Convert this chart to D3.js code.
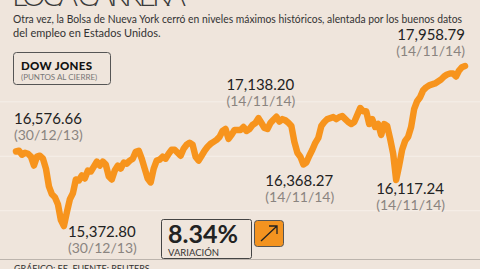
<!DOCTYPE html>
<html>
  <head>
    <meta charset="UTF-8" />
    <script src="https://d3js.org/d3.v7.min.js"></script>
    <style>
      body { margin: 0; background: #efe5dc; }
      text { font-family: Lato, "Open Sans", sans-serif; }
    </style>
  </head>
  <body>
    <svg width="480" height="269"></svg>

    <script>
      // Dow Jones closes, 30/12/13 .. 05/12/14
      const values = [
        16576.66, 16589, 16525, 16557, 16540, 16493, 16350, 16493, 16509, 16461,
        16301, 16013, 15885, 15837, 15725, 15469, 15372.80, 15597, 15805, 15901,
        16125, 16109, 16189, 16141, 16269, 16253, 16333, 16413, 16349, 16413,
        16365, 16173, 16125, 16269, 16349, 16301, 16397, 16381, 16429, 16461,
        16573, 16589, 16461, 16301, 16141, 16077, 16301, 16429, 16445, 16493,
        16461, 16541, 16605, 16605, 16557, 16509, 16621, 16685, 16717, 16685,
        16493, 16429, 16509, 16589, 16653, 16701, 16733, 16765, 16813, 16909,
        16941, 16781, 16845, 16925, 16925, 16925, 16973, 16909, 16941, 17005,
        17037, 17117, 17037, 16957, 16941, 17037, 17090, 17138.20, 17060, 17100,
        17080, 17040, 16989, 16733, 16557, 16493, 16368.27, 16400, 16509, 16605,
        16717, 16797, 16989, 17053, 17101, 17117, 17133, 17101, 17133, 17149,
        17101, 17053, 17021, 17053, 17165, 17280, 17229, 17229, 17021, 17101,
        16973, 17021, 16845, 17021, 16989, 16781, 16541, 16117.24, 16349, 16605,
        16749, 16813, 16973, 17261, 17389, 17453, 17565, 17613, 17645, 17661,
        17677, 17709, 17741, 17789, 17821, 17837, 17837, 17789, 17885, 17940,
        17958.79
      ];

      // highlighted points: index into values, label text, date text
      const callouts = [
        { i: 0, value: "16,576.66", date: "(30/12/13)" },
        { i: 16, value: "15,372.80", date: "(30/12/13)" },
        { i: 87, value: "17,138.20", date: "(14/11/14)" },
        { i: 96, value: "16,368.27", date: "(14/11/14)" },
        { i: 127, value: "16,117.24", date: "(14/11/14)" },
        { i: 150, value: "17,958.79", date: "(14/11/14)" }
      ];

      const gridValues = [15620, 16500, 17380];

      const title = "LOCA CARRERA";
      const subtitle = [
        "Otra vez, la Bolsa de Nueva York cerró en niveles máximos históricos, alentada por los buenos datos",
        "del empleo en Estados Unidos."
      ];
      const variation = "8.34%";

      const svg = d3.select("svg");

      const x = d3.scaleLinear().domain([0, values.length - 1]).range([16, 465]);
      const y = d3.scaleLinear().domain([15372.8, 17958.79]).range([226, 66]);

      svg.append("rect").attr("width", 480).attr("height", 269).attr("fill", "#efe5dc");

      // faint grid
      svg.selectAll(".grid")
        .data(gridValues)
        .enter()
        .append("line")
        .attr("x1", 0)
        .attr("x2", 480)
        .attr("y1", d => y(d))
        .attr("y2", d => y(d))
        .attr("stroke", "#f6efe9")
        .attr("stroke-width", 1);

      // title (cut at the top)
      svg.append("text")
        .attr("x", 12)
        .attr("y", 6)
        .attr("font-size", 30)
        .attr("font-weight", 300)
        .attr("fill", "#3a3a3a")
        .attr("textLength", 174)
        .text(title);

      svg.selectAll(".sub")
        .data(subtitle)
        .enter()
        .append("text")
        .attr("x", 13)
        .attr("y", (d, i) => 23 + i * 14)
        .attr("font-size", 11)
        .attr("fill", "#333")
        .attr("textLength", (d, i) => i === 0 ? 449 : null)
        .attr("lengthAdjust", "spacingAndGlyphs")
        .text(d => d);

      // Dow Jones box
      svg.append("rect")
        .attr("x", 13.5).attr("y", 52.5)
        .attr("width", 97).attr("height", 32)
        .attr("rx", 3)
        .attr("fill", "none")
        .attr("stroke", "#555");
      svg.append("text")
        .attr("x", 21).attr("y", 70)
        .attr("font-size", 11.5)
        .attr("font-weight", 900)
        .attr("fill", "#111")
        .attr("textLength", 71)
        .text("DOW JONES");
      svg.append("text")
        .attr("x", 21).attr("y", 80)
        .attr("font-size", 8)
        .attr("fill", "#777")
        .text("(PUNTOS AL CIERRE)");

      // line
      const line = d3.line()
        .x((d, i) => x(i))
        .y(d => y(d));

      svg.append("path")
        .datum(values)
        .attr("d", line)
        .attr("fill", "none")
        .attr("stroke", "#f7941d")
        .attr("stroke-width", 6.5)
        .attr("stroke-linejoin", "round")
        .attr("stroke-linecap", "round");

      // callout labels
      const labelPos = {
        0: { dx: -2, dy: -28, anchor: "start" },
        16: { dx: 4, dy: 11, anchor: "start" },
        87: { dx: -50, dy: -27, anchor: "start" },
        96: { dx: -38, dy: 22, anchor: "start" },
        127: { dx: -20, dy: 14, anchor: "start" },
        150: { dx: 0, dy: -26, anchor: "end" }
      };

      callouts.forEach(c => {
        const p = labelPos[c.i];
        const cx = x(c.i) + p.dx;
        const cy = y(values[c.i]) + p.dy;
        svg.append("text")
          .attr("x", cx).attr("y", cy)
          .attr("text-anchor", p.anchor)
          .attr("font-size", 15)
          .attr("fill", "#222")
          .text(c.value);
        svg.append("text")
          .attr("x", cx).attr("y", cy + 16)
          .attr("text-anchor", p.anchor)
          .attr("font-size", 14)
          .attr("fill", "#8a8480")
          .text(c.date);
      });

      // variation box
      svg.append("rect")
        .attr("x", 161.5).attr("y", 219.5)
        .attr("width", 90).attr("height", 39)
        .attr("rx", 2)
        .attr("fill", "none")
        .attr("stroke", "#444");
      svg.append("text")
        .attr("x", 168).attr("y", 243)
        .attr("font-size", 25)
        .attr("font-weight", 700)
        .attr("fill", "#222")
        .text(variation);
      svg.append("text")
        .attr("x", 168).attr("y", 256)
        .attr("font-size", 9.5)
        .attr("fill", "#333")
        .text("VARIACIÓN");

      svg.append("rect")
        .attr("x", 254.5).attr("y", 220.5)
        .attr("width", 29).attr("height", 26)
        .attr("rx", 3)
        .attr("fill", "#f39320")
        .attr("stroke", "#555");
      svg.append("path")
        .attr("d", "M261,241 L277,226 M269,226 L277,226 L277,234")
        .attr("fill", "none")
        .attr("stroke", "#222")
        .attr("stroke-width", 1.3);

      // footer
      svg.append("line")
        .attr("x1", 0).attr("x2", 480)
        .attr("y1", 259.5).attr("y2", 259.5)
        .attr("stroke", "#bcb4ad");
      svg.append("text")
        .attr("x", 14).attr("y", 272)
        .attr("font-size", 9)
        .attr("fill", "#333")
        .text("GRÁFICO: EE. FUENTE: REUTERS");
    </script>
  </body>
</html>
